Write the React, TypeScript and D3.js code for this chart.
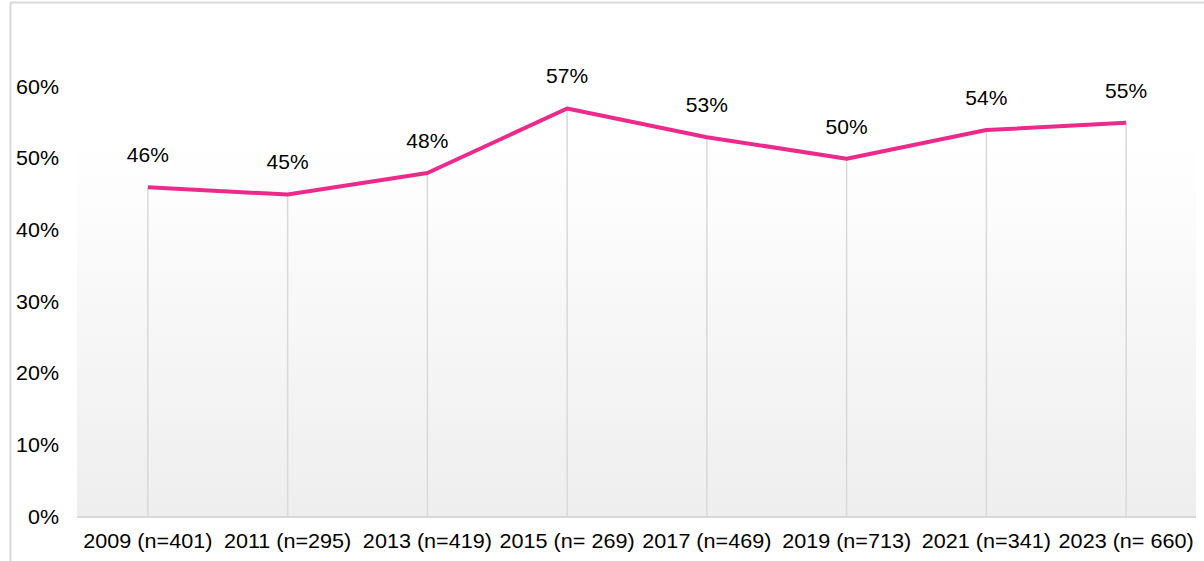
import React from "react";
import * as d3 from "d3";

const categories = [
  "2009 (n=401)",
  "2011 (n=295)",
  "2013 (n=419)",
  "2015 (n= 269)",
  "2017 (n=469)",
  "2019 (n=713)",
  "2021 (n=341)",
  "2023 (n= 660)",
];
const values = [46, 45, 48, 57, 53, 50, 54, 55];
const yTicks = [0, 10, 20, 30, 40, 50, 60];

const W = 1204;
const H = 561;
const plot = { left: 78, right: 1196, top: 87, bottom: 517, shadeTop: 141 };
const FONT = "'Liberation Sans', Arial, sans-serif";
const PINK = "#EC2A8C";
const GRID = "#d9d9d9";

export default function App() {
  const x = d3
    .scaleBand<string>()
    .domain(categories)
    .range([plot.left, plot.right]);
  const y = d3.scaleLinear().domain([0, 60]).range([plot.bottom, plot.top]);
  const cx = (c: string) => (x(c) as number) + x.bandwidth() / 2;

  const line = d3
    .line<number>()
    .x((_, i) => cx(categories[i]))
    .y((d) => y(d));

  return (
    <svg
      width={W}
      height={H}
      style={{ position: "absolute", left: 0, top: 0, background: "#fff" }}
    >
      <defs>
        <linearGradient id="bg" x1="0" y1="0" x2="0" y2="1">
          <stop offset="0%" stopColor="#ffffff" />
          <stop offset="100%" stopColor="#eeeeee" />
        </linearGradient>
      </defs>
      {/* outer frame */}
      <line x1={10.5} x2={10.5} y1={2.5} y2={H} stroke={GRID} strokeWidth={2} />
      <line x1={10} x2={W} y1={2.5} y2={2.5} stroke={GRID} strokeWidth={2} />

      {/* plot area shading */}
      <rect
        x={plot.left - 1}
        y={plot.shadeTop}
        width={plot.right - plot.left + 1}
        height={plot.bottom - plot.shadeTop}
        fill="url(#bg)"
      />

      {/* drop lines */}
      {categories.map((c, i) => (
        <line
          key={"d" + c}
          x1={cx(c)}
          x2={cx(c)}
          y1={y(values[i])}
          y2={plot.bottom}
          stroke={GRID}
          strokeWidth={1.5}
        />
      ))}

      {/* baseline */}
      <line
        x1={plot.left - 1}
        x2={plot.right}
        y1={plot.bottom}
        y2={plot.bottom}
        stroke={GRID}
        strokeWidth={2}
      />

      {/* y tick labels */}
      {yTicks.map((t) => (
        <text
          key={"y" + t}
          x={59}
          y={y(t)}
          dy="0.35em"
          textAnchor="end"
          fontFamily={FONT}
          fontSize={19.5}
          fill="#000"
          transform={`translate(${59},0) scale(1.1,1) translate(${-59},0)`}
        >
          {t}%
        </text>
      ))}

      {/* series line */}
      <path
        d={line(values) || ""}
        fill="none"
        stroke={PINK}
        strokeWidth={4}
        strokeLinejoin="round"
      />

      {/* data labels */}
      {categories.map((c, i) => (
        <text
          key={"l" + c}
          x={cx(c)}
          y={y(values[i]) - 25}
          textAnchor="middle"
          fontFamily={FONT}
          fontSize={20}
          fill="#000"
          transform={`translate(${cx(c)},0) scale(1.05,1) translate(${-cx(c)},0)`}
        >
          {values[i]}%
        </text>
      ))}

      {/* x labels */}
      {categories.map((c) => (
        <text
          key={"x" + c}
          x={cx(c)}
          y={548}
          textAnchor="middle"
          fontFamily={FONT}
          fontSize={20}
          fill="#000"
          transform={`translate(${cx(c)},0) scale(1.08,1) translate(${-cx(c)},0)`}
        >
          {c}
        </text>
      ))}
    </svg>
  );
}
